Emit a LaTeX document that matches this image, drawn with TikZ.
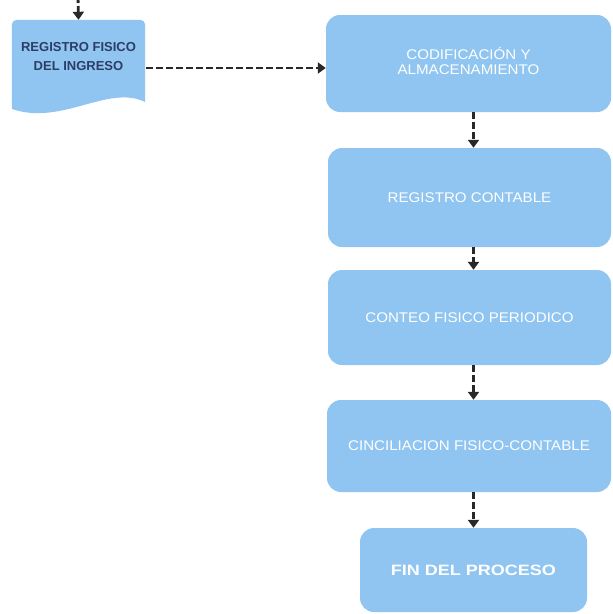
\documentclass[tikz,border=0pt]{standalone}
\usepackage{fontspec}
\setmainfont{Liberation Sans}
\newfontfamily\boxfont[FakeStretch=1.08]{Liberation Sans}
\newfontfamily\endfont[FakeStretch=1.2]{Liberation Sans}
\usetikzlibrary{arrows.meta,backgrounds}
\definecolor{boxblue}{RGB}{143,197,240}
\definecolor{doctext}{RGB}{44,62,102}
\definecolor{flowgray}{RGB}{40,40,40}
\tikzset{
  stepbox/.style={fill=boxblue, draw=none, rounded corners=14pt,
    text=white, align=center, inner sep=0pt,
    font=\boxfont\fontsize{14}{15}\selectfont},
  docnode/.style={draw=none, align=center, inner sep=0pt,
    minimum width=133pt, minimum height=73pt, text=doctext,
    font=\bfseries\fontsize{13}{19}\selectfont},
  flow/.style={draw=flowgray, line width=2.8pt, dash pattern=on 7pt off 3pt,
    -{Triangle[length=8pt,width=11pt]}},
}
\begin{document}
\begin{tikzpicture}[x=1pt,y=-1pt]
\useasboundingbox (0,0) rectangle (613,614);

% document-shaped entry step
\node[docnode] (doc) at (78.5,56.5) {REGISTRO FISICO\\DEL INGRESO};
\begin{scope}[on background layer]
  \fill[boxblue, rounded corners=5pt]
    (doc.west |- 0,109) -- (doc.north west) -- (doc.north east)
    [sharp corners] -- (doc.east |- 0,102)
    .. controls (108,84) and (62,126) .. (12,109) -- cycle;
\end{scope}

% main process column
\node[stepbox, minimum width=285pt, minimum height=97pt] (b1) at (468.5,63.5)
  {\raisebox{-6pt}{\begin{tabular}{@{}c@{}}CODIFICACIÓN Y\\ALMACENAMIENTO\end{tabular}}};
\node[stepbox, minimum width=283pt, minimum height=99pt] (b2) at (469.5,197.5)
  {REGISTRO CONTABLE};
\node[stepbox, minimum width=283pt, minimum height=95pt] (b3) at (469.5,317.5)
  {CONTEO FISICO PERIODICO};
\node[stepbox, minimum width=284pt, minimum height=92pt] (b4) at (469,446)
  {CINCILIACION FISICO-CONTABLE};
\node[stepbox, minimum width=227pt, minimum height=84pt,
  font=\endfont\bfseries\fontsize{15}{17}\selectfont] (b5) at (473.5,570)
  {FIN DEL PROCESO};

% connectors
\coordinate (in) at (78,-4);
\coordinate (docout) at (146,68);
\draw[flow] (in) -- (doc.north);
\draw[flow] (docout) -- (docout -| b1.west);
\draw[flow] (b1.south -| b5.north) -- (b2.north -| b5.north);
\draw[flow] (b2.south -| b5.north) -- (b3.north -| b5.north);
\draw[flow] (b3.south -| b5.north) -- (b4.north -| b5.north);
\draw[flow] (b4.south -| b5.north) -- (b5.north);
\end{tikzpicture}
\end{document}
